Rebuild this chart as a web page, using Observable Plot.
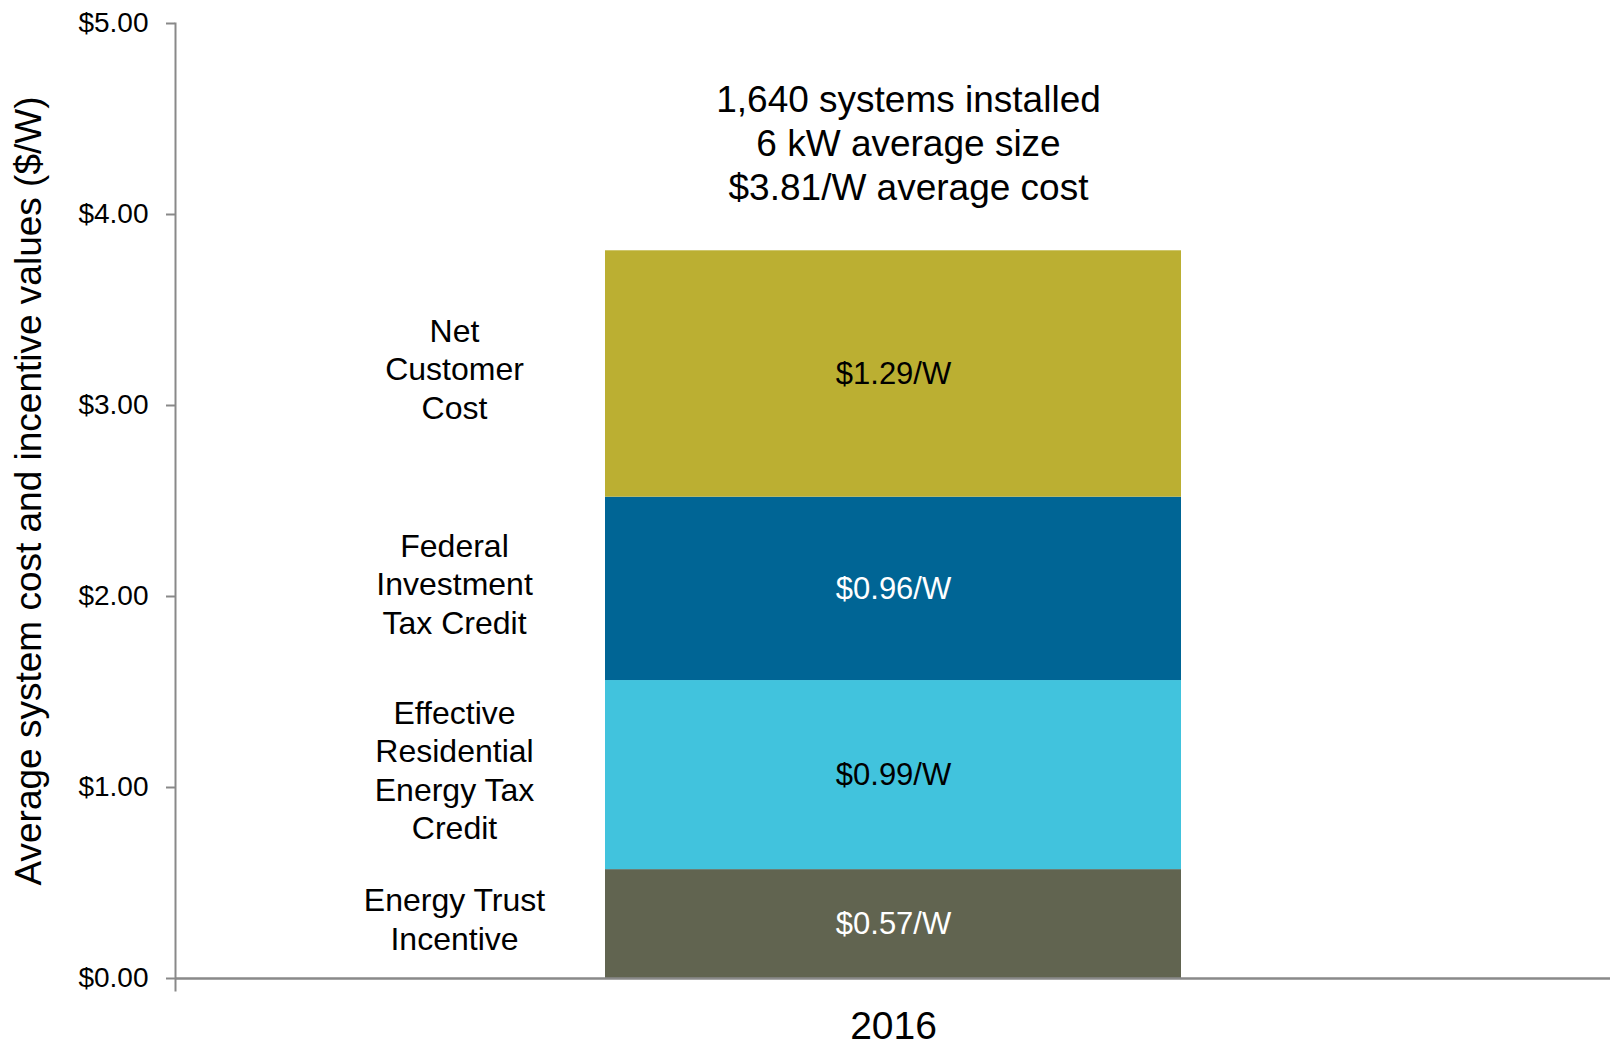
<!DOCTYPE html>
<html>
<head>
<meta charset="utf-8">
<script src="https://cdn.jsdelivr.net/npm/d3@7"></script>
<script src="https://cdn.jsdelivr.net/npm/@observablehq/plot@0.6"></script>
<style>
  html, body { margin: 0; padding: 0; background: #fff; }
  #chart svg { display: block; }
</style>
</head>
<body>
<div id="chart"></div>
<script>
const categories = ["2016"];
const components = ["Energy Trust Incentive", "Effective Residential Energy Tax Credit", "Federal Investment Tax Credit", "Net Customer Cost"];
const sideLabels = ["Energy Trust\nIncentive", "Effective\nResidential\nEnergy Tax\nCredit", "Federal\nInvestment\nTax Credit", "Net\nCustomer\nCost"];
const values = [0.57, 0.99, 0.96, 1.29];
const valueLabels = ["$0.57/W", "$0.99/W", "$0.96/W", "$1.29/W"];
const colors = ["#616450", "#41C3DD", "#006595", "#BBAF32"];
const labelColors = ["#ffffff", "#000000", "#ffffff", "#000000"];
const yTicks = [0, 1, 2, 3, 4, 5];
const annotation = ["1,640 systems installed", "6 kW average size", "$3.81/W average cost"];
const yTitle = "Average system cost and incentive values ($/W)";

const ends = d3.cumsum(values);
const data = components.map((c, i) => ({
  year: categories[0],
  component: c,
  side: sideLabels[i],
  value: values[i],
  label: valueLabels[i],
  color: colors[i],
  labelColor: labelColors[i],
  mid: ends[i] - values[i] / 2
}));
const total = ends[ends.length - 1];

const font = "'Liberation Sans', Arial, sans-serif";
const axisGray = "#898989";

const chart = Plot.plot({
  width: 1610,
  height: 1047,
  marginLeft: 175,
  marginRight: 0,
  marginTop: 23,
  marginBottom: 69,
  style: { fontFamily: font, background: "#fff", overflow: "visible" },
  x: { domain: categories, padding: 0.427, label: null },
  y: { domain: [0, 5], label: null },
  color: { type: "identity" },
  marks: [
    Plot.barY(data, Plot.stackY({ x: "year", y: "value", fill: "color" })),
    Plot.text(data, { x: "year", y: "mid", text: "label", fill: "labelColor", fontSize: 31 }),
    Plot.text(data, { x: "year", y: "mid", text: "side", fill: "black", fontSize: 32, lineHeight: 1.2, dx: -439, dy: -6 }),
    Plot.text([annotation.join("\n")], { x: () => categories[0], y: () => total, text: d => d, fontSize: 37, lineHeight: 1.2, fill: "black", dx: 15, dy: -109 }),
    Plot.axisY({ ticks: yTicks, tickFormat: d => "$" + d.toFixed(2), tickSize: 9, tickPadding: 18, fontSize: 28, stroke: axisGray, strokeWidth: 2, fill: "black", label: null }),
    Plot.axisX({ tickSize: 0, tickPadding: 33, fontSize: 39, fill: "black", label: null }),
    Plot.frame({ anchor: "left", stroke: axisGray, strokeWidth: 2, insetBottom: -12 }),
    Plot.ruleY([0], { stroke: axisGray, strokeWidth: 2.5 }),
    Plot.text([yTitle], { frameAnchor: "left", textAnchor: "middle", text: d => d, rotate: -90, dx: -146, dy: -10, fontSize: 37, fill: "black" })
  ]
});

document.getElementById("chart").appendChild(chart);
</script>
</body>
</html>
